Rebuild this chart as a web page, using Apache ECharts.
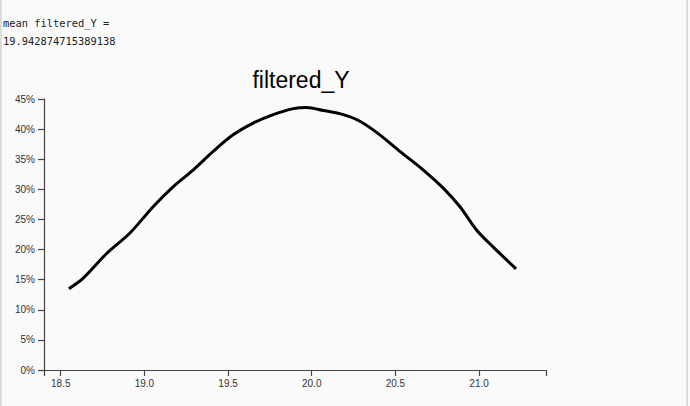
<!DOCTYPE html>
<html>
<head>
<meta charset="utf-8">
<script src="https://cdn.jsdelivr.net/npm/echarts@6/dist/echarts.min.js"></script>
<style>
	html, body { margin: 0; padding: 0; }
	body { width: 690px; height: 406px; background: #fafafa; position: relative; overflow: hidden; }
	#edgeL { position: absolute; left: 0; top: 0; width: 2px; height: 406px; background: #dcdcdc; }
	#edgeR { position: absolute; left: 686px; top: 0; width: 2px; height: 406px; background: #dcdcdc; }
	#meanText { position: absolute; left: 3px; top: 14px; font-family: "DejaVu Sans Mono"; font-size: 10.4px; line-height: 18px; color: #222; white-space: pre; }
	#lineEchart { position: absolute; left: 0; top: 0; width: 690px; height: 406px; }
</style>
</head>
<body>
<div id="lineEchart"></div>
<div id="edgeL"></div>
<div id="edgeR"></div>
<div id="meanText">mean filtered_Y =
19.942874715389138</div>
<script>
// 曲线上的点 (x, 比例)
var xValues = [18.549, 18.633, 18.773, 18.912, 19.052, 19.171, 19.291, 19.411, 19.530, 19.650,
	19.770, 19.890, 19.969, 20.069, 20.188, 20.288, 20.407, 20.527, 20.667, 20.786,
	20.886, 20.986, 21.085, 21.221];
var yValues = [0.135, 0.152, 0.193, 0.227, 0.271, 0.304, 0.332, 0.363, 0.3905, 0.410,
	0.424, 0.434, 0.436, 0.431, 0.424, 0.413, 0.3905, 0.363, 0.332, 0.302,
	0.271, 0.232, 0.204, 0.168];
// 坐标轴刻度
var xTicks = [18.4, 18.5, 19.0, 19.5, 20.0, 20.5, 21.0, 21.4];
var xTickLabels = [18.5, 19.0, 19.5, 20.0, 20.5, 21.0];
var yTickStep = 0.05;
var yMax = 0.45;

var chartTitle = 'filtered_Y';

var myChart = echarts.init(document.getElementById('lineEchart'), null, { renderer: 'svg' });

var points = [];
for (var i = 0; i < xValues.length; i++) {
	points.push([xValues[i], yValues[i]]);
}

var axisColor = '#444';
var labelStyle = { color: '#333', fontSize: 10, fontFamily: 'Liberation Sans, Arial, sans-serif' };

var option = {
	animation: false,
	backgroundColor: '#fafafa',
	title: {
		text: chartTitle,
		left: 296,
		textAlign: 'center',
		top: 63,
		textStyle: { color: '#000', fontSize: 23, fontWeight: 'normal', fontFamily: 'Liberation Sans, Arial, sans-serif' }
	},
	grid: {
		left: 44,
		right: 144,
		top: 99,
		bottom: 36,
		outerBoundsMode: 'none'
	},
	xAxis: {
		type: 'value',
		min: xTicks[0],
		max: xTicks[xTicks.length - 1],
		splitLine: { show: false },
		axisLine: { lineStyle: { color: axisColor, width: 1.2 } },
		axisTick: { show: true, length: 6, customValues: xTicks, lineStyle: { color: axisColor, width: 1.2 } },
		axisLabel: Object.assign({
			margin: 8,
			customValues: xTickLabels,
			formatter: function (v) { return v.toFixed(1); }
		}, labelStyle)
	},
	yAxis: {
		type: 'value',
		min: 0,
		max: yMax,
		interval: yTickStep,
		splitLine: { show: false },
		axisLine: { show: true, lineStyle: { color: axisColor, width: 1.2 } },
		axisTick: { show: true, length: 6, lineStyle: { color: axisColor, width: 1.2 } },
		axisLabel: Object.assign({
			margin: 9,
			formatter: function (v) { return Math.round(v * 100) + '%'; }
		}, labelStyle)
	},
	series: [{
		type: 'line',
		data: points,
		smooth: 0.3,
		symbol: 'none',
		lineStyle: { color: '#000', width: 3 }
	}]
};

myChart.setOption(option);
</script>
</body>
</html>
